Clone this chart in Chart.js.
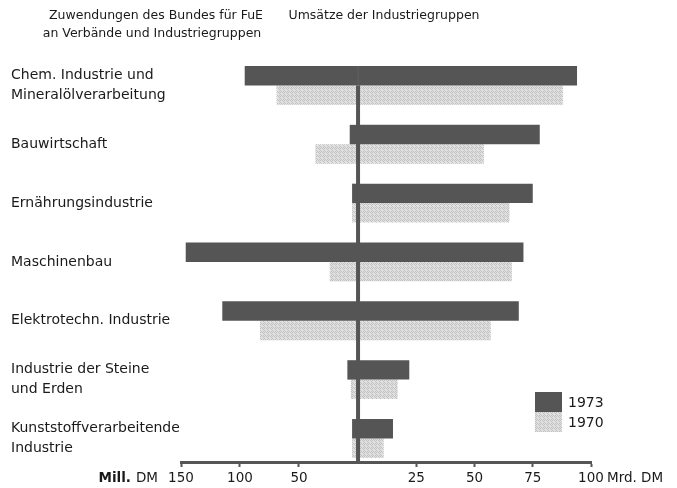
<!DOCTYPE html>
<html lang="de">
<head>
<meta charset="utf-8">
<title>FuE-Zuwendungen und Umsätze der Industriegruppen</title>
<script src="https://cdn.jsdelivr.net/npm/chart.js@4.4.0/dist/chart.umd.min.js"></script>
<style>
  html, body { margin: 0; padding: 0; background: #fff; }
  #wrap { width: 677px; height: 488px; }
</style>
</head>
<body>
<div id="wrap"><canvas id="chart" width="677" height="488"></canvas></div>
<script>
// =========================
// Daten
// =========================

const categories = [
  ["Chem. Industrie und", "Mineralölverarbeitung"],
  "Bauwirtschaft",
  "Ernährungsindustrie",
  "Maschinenbau",
  "Elektrotechn. Industrie",
  ["Industrie der Steine", "und Erden"],
  ["Kunststoffverarbeitende", "Industrie"],
];

const years = ["1973", "1970"];

// Zuwendungen des Bundes für FuE, Mill. DM (linke Seite)
const fue1973 = [96, 7, 5, 146, 115, 9, 5];
const fue1970 = [69, 36, 5, 24, 83, 6, 5];

// Umsätze der Industriegruppen, Mrd. DM (rechte Seite)
const umsatz1973 = [94, 78, 75, 71, 69, 22, 15];
const umsatz1970 = [88, 54, 65, 66, 57, 17, 11];

const ticksMill = [50, 100, 150];
const ticksMrd = [25, 50, 75, 100];

// =========================
// Styles
// =========================

const FONT = "DejaVu Sans";
const DARK = "#555555";
const TEXT = "#1a1a1a";

function makeStipple() {
  const c = document.createElement("canvas");
  c.width = 4;
  c.height = 4;
  const g = c.getContext("2d");
  g.fillStyle = "#e0e0e0";
  g.fillRect(0, 0, 4, 4);
  g.fillStyle = "#c2c2c2";
  [[0, 0], [2, 0], [1, 1], [3, 1], [0, 2], [2, 2], [1, 3], [3, 3]].forEach(([x, y], i) => {
    if (i % 3 !== 2) g.fillRect(x, y, 1, 1);
  });
  return g.createPattern(c, "repeat");
}

const LIGHT = makeStipple();

function toPoints(values) {
  return values.map((v, i) => ({ x: v, y: i }));
}

// =========================
// Plugin: Titel, Mittellinie, Achsbeschriftung, Legende
// =========================

const overlayPlugin = {
  id: "overlay",
  afterDatasetsDraw(chart) {
    const { ctx, chartArea, scales } = chart;
    const x0 = scales.xR.getPixelForValue(0);
    const yTop = scales.y.getPixelForValue(0);
    ctx.save();
    ctx.fillStyle = DARK;
    ctx.fillRect(x0 - 2, yTop, 4, chartArea.bottom - yTop);
    ctx.restore();
  },
  afterDraw(chart) {
    const { ctx, scales } = chart;
    ctx.save();
    ctx.fillStyle = TEXT;
    ctx.textBaseline = "middle";

    // Überschriften
    ctx.font = `12.5px "${FONT}"`;
    ctx.textAlign = "center";
    ctx.fillText("Zuwendungen des Bundes für FuE", 156, 16);
    ctx.fillText("an Verbände und Industriegruppen", 152, 34);
    ctx.fillText("Umsätze der Industriegruppen", 384, 16);

    // Tick-Beschriftung beider Skalen auf der gemeinsamen Achse
    const yLab = 478;
    ctx.font = `13.5px "${FONT}"`;
    ticksMill.forEach((v) => ctx.fillText(String(v), scales.xL.getPixelForValue(v), yLab));
    ticksMrd.forEach((v) => ctx.fillText(String(v), scales.xR.getPixelForValue(v), yLab));

    // Einheiten
    ctx.textAlign = "right";
    ctx.fillText("DM", 158, yLab);
    const wDM = ctx.measureText("DM").width;
    ctx.font = `bold 13.5px "${FONT}"`;
    ctx.fillText("Mill.", 158 - wDM - 5, yLab);

    ctx.textAlign = "left";
    ctx.font = `13.5px "${FONT}"`;
    const x100 = scales.xR.getPixelForValue(100);
    ctx.fillText("Mrd. DM", x100 + 16, yLab);

    // Legende
    const lx = 535, ly = 392, bw = 27, bh = 20;
    ctx.fillStyle = DARK;
    ctx.fillRect(lx, ly, bw, bh);
    ctx.fillStyle = LIGHT;
    ctx.fillRect(lx, ly + bh, bw, bh);
    ctx.fillStyle = TEXT;
    ctx.font = `14px "${FONT}"`;
    ctx.fillText(years[0], lx + 33, ly + bh / 2 + 1);
    ctx.fillText(years[1], lx + 33, ly + bh * 1.5 + 1);
    ctx.restore();
  },
};

// =========================
// Chart
// =========================

function tickList(values) {
  return (scale) => {
    scale.ticks = values.map((v) => ({ value: v }));
  };
}

function xAxis(min, max, reverse, ticks) {
  return {
    type: "linear",
    position: "bottom",
    min,
    max,
    reverse,
    stacked: false,
    afterBuildTicks: tickList(ticks),
    afterFit: (s) => { s.height = 0; },
    border: { display: true, color: DARK, width: 3 },
    grid: {
      drawOnChartArea: false,
      drawTicks: true,
      tickLength: 5,
      tickColor: DARK,
      tickWidth: 2,
    },
    ticks: { display: false },
  };
}

const ctx = document.getElementById("chart");

new Chart(ctx, {
  type: "bar",
  data: {
    datasets: [
      { label: "FuE " + years[0], data: toPoints(fue1973), xAxisID: "xL", stack: years[0], backgroundColor: DARK },
      { label: "FuE " + years[1], data: toPoints(fue1970), xAxisID: "xL", stack: years[1], backgroundColor: LIGHT },
      { label: "Umsatz " + years[0], data: toPoints(umsatz1973), xAxisID: "xR", stack: years[0], backgroundColor: DARK },
      { label: "Umsatz " + years[1], data: toPoints(umsatz1970), xAxisID: "xR", stack: years[1], backgroundColor: LIGHT },
    ],
  },
  options: {
    indexAxis: "y",
    responsive: false,
    animation: false,
    devicePixelRatio: 1,
    layout: { padding: { left: 11, right: 86, top: 56, bottom: 26 } },
    datasets: {
      bar: { categoryPercentage: 0.66, barPercentage: 1.0, borderWidth: 0 },
    },
    scales: {
      y: {
        type: "linear",
        reverse: true,
        min: -0.5,
        max: 6.4,
        offset: false,
        afterBuildTicks: tickList(categories.map((_, i) => i)),
        afterFit: (s) => { s.width = 170; },
        border: { display: false },
        grid: { display: false, offset: false },
        ticks: {
          crossAlign: "far",
          color: TEXT,
          padding: 0,
          font: { family: FONT, size: 14, lineHeight: 1.42 },
          callback: (v) => categories[v],
        },
      },
      xL: xAxis(-197.5, 150, true, ticksMill),
      xR: xAxis(-76, 100, false, ticksMrd),
    },
    plugins: {
      legend: { display: false },
      tooltip: { enabled: false },
    },
  },
  plugins: [overlayPlugin],
});
</script>
</body>
</html>
